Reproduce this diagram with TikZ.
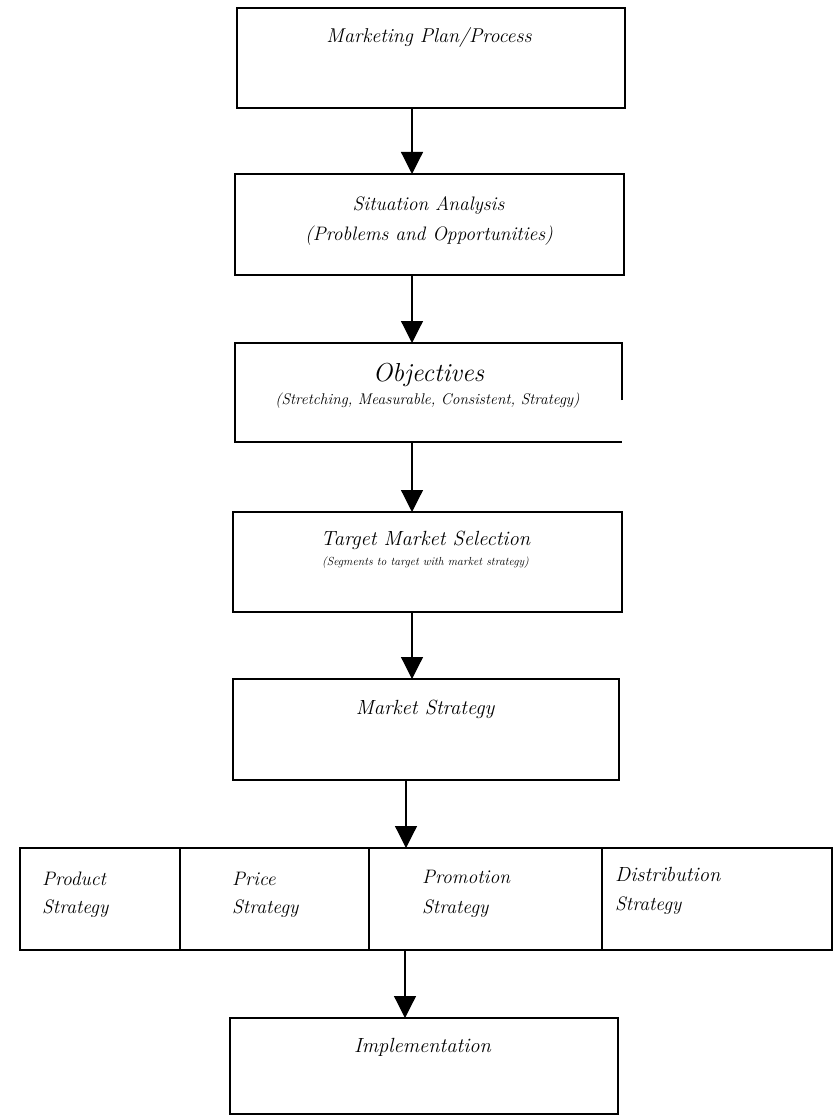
\documentclass[tikz,border=0pt]{standalone}
\usepackage{fontspec}
\usetikzlibrary{arrows.meta,calc}
\tikzset{
  boxline/.style={line width=1.5pt, black},
  box/.style={draw, boxline, rectangle, inner sep=0pt, outer sep=0pt},
  conn/.style={line width=1.2pt, black, -{Triangle[width=22pt,length=22pt]}},
  txt/.style={inner sep=0pt, anchor=base, font=\itshape\fontsize{19.5}{22}\selectfont},
  ltxt/.style={inner sep=0pt, anchor=base west, font=\itshape\fontsize{19.5}{22}\selectfont},
}
\begin{document}
\begin{tikzpicture}[x=1pt,y=-1pt]
\useasboundingbox[fill=white] (0,0) rectangle (834,1118);
% boxes
\node[box, minimum width=388pt, minimum height=100pt] (b1) at (431,58) {};
\node[box, minimum width=389pt, minimum height=101pt] (b2) at (429.5,224.5) {};
\node[box, draw=none, minimum width=387pt, minimum height=99pt] (b3) at (428.5,392.5) {};
\draw[boxline] ($(b3.north east)+(0,57)$) -- (b3.north east) -- (b3.north west) -- (b3.south west) -- (b3.south east);
\node[box, minimum width=389pt, minimum height=100pt] (b4) at (427.5,562) {};
\node[box, minimum width=386pt, minimum height=101pt] (b5) at (426,729.5) {};
\node[box, minimum width=160pt, minimum height=102pt] (c1) at (100,899) {};
\node[box, minimum width=189pt, minimum height=102pt] (c2) at (274.5,899) {};
\node[box, minimum width=233pt, minimum height=102pt] (c3) at (485.5,899) {};
\node[box, minimum width=230pt, minimum height=102pt] (c4) at (717,899) {};
\node[box, minimum width=388pt, minimum height=96pt] (b7) at (424,1066) {};
% texts
\node[txt, font=\itshape\fontsize{20}{22}\selectfont] (t1) at (429,43) {Marketing Plan/Process};
\node[txt] (t2a) at (428.5,210) {Situation Analysis};
\node[txt] (t2b) at (429,240) {(Problems and Opportunities)};
\node[txt, font=\itshape\fontsize{26}{30}\selectfont] (t3a) at (428.5,381.5) {Objectives};
\node[txt, font=\itshape\fontsize{15.5}{18}\selectfont] (t3b) at (427.5,404) {(Stretching, Measurable, Consistent, Strategy)};
\node[txt, font=\itshape\fontsize{20.5}{24}\selectfont] (t4a) at (425.5,545) {Target Market Selection};
\node[txt, font=\itshape\fontsize{11.7}{14}\selectfont] (t4b) at (425.5,565) {(Segments to target with market strategy)};
\node[txt, font=\itshape\fontsize{20.5}{24}\selectfont] (t5) at (425,714) {Market Strategy};
\node[ltxt] (p1) at (42,885) {Product};
\node[ltxt] (p2) at (42,913) {Strategy};
\node[ltxt] (q1) at (232,885) {Price};
\node[ltxt] (q2) at (232,913) {Strategy};
\node[ltxt] (r1) at (422,883) {Promotion};
\node[ltxt] (r2) at (422,913) {Strategy};
\node[ltxt, font=\itshape\fontsize{20.5}{24}\selectfont] (s1) at (615,881) {Distribution};
\node[ltxt] (s2) at (615,910) {Strategy};
\node[txt, font=\itshape\fontsize{20.5}{24}\selectfont] (t7) at (422.5,1052) {Implementation};
% connectors
\coordinate (xa) at (412,0);
\coordinate (xb) at (406,0);
\coordinate (xc) at (405,0);
\draw[conn] (b1.south -| xa) -- (b2.north -| xa);
\draw[conn] (b2.south -| xa) -- (b3.north -| xa);
\draw[conn] (b3.south -| xa) -- (b4.north -| xa);
\draw[conn] (b4.south -| xa) -- (b5.north -| xa);
\draw[conn] (b5.south -| xb) -- (c3.north -| xb);
\draw[conn] (c3.south -| xc) -- (b7.north -| xc);
\end{tikzpicture}
\end{document}
